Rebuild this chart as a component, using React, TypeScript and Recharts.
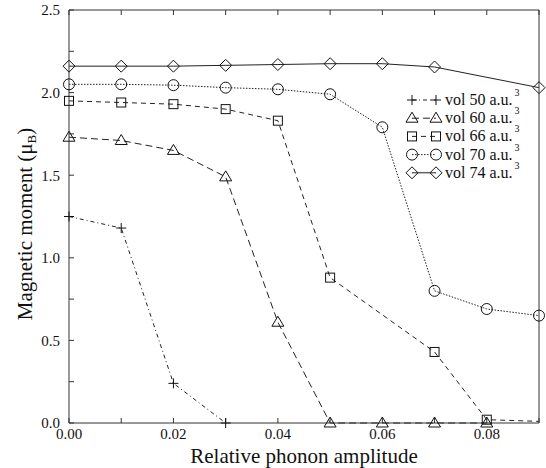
import React from "react";
import { LineChart, Line, XAxis, YAxis, Label } from "recharts";

// relative phonon amplitude
const amplitude = [0, 0.01, 0.02, 0.03, 0.04, 0.05, 0.06, 0.07, 0.08, 0.09];
// magnetic moment per volume (null = no point)
const vol50 = [1.25, 1.18, 0.24, 0.0, null, null, null, null, null, null];
const vol60 = [1.73, 1.71, 1.65, 1.49, 0.61, 0.0, 0.0, 0.0, 0.0, null];
const vol66 = [1.95, 1.94, 1.93, 1.9, 1.83, 0.88, null, 0.43, 0.02, 0.01];
const vol70 = [2.05, 2.05, 2.045, 2.03, 2.02, 1.99, 1.79, 0.8, 0.69, 0.65];
const vol74 = [2.16, 2.16, 2.16, 2.165, 2.17, 2.175, 2.175, 2.155, null, 2.03];

const xTicks = [0, 0.01, 0.02, 0.03, 0.04, 0.05, 0.06, 0.07, 0.08, 0.09];
const yTicks = [0, 0.25, 0.5, 0.75, 1, 1.25, 1.5, 1.75, 2, 2.25, 2.5];

const data = amplitude.map((a, i) => ({
  a,
  v50: vol50[i],
  v60: vol60[i],
  v66: vol66[i],
  v70: vol70[i],
  v74: vol74[i],
}));

const FONT = "Liberation Serif, DejaVu Serif, serif";
const AXIS = "#333";

type Shape = "plus" | "triangle" | "square" | "circle" | "diamond";

const series: { key: string; label: string; shape: Shape; dash?: string; hideLast?: boolean }[] = [
  { key: "v50", label: "vol 50 a.u.", shape: "plus", dash: "4 3 1 3" },
  { key: "v60", label: "vol 60 a.u.", shape: "triangle", dash: "7 4" },
  { key: "v66", label: "vol 66 a.u.", shape: "square", dash: "5 4", hideLast: true },
  { key: "v70", label: "vol 70 a.u.", shape: "circle", dash: "1.5 1.5" },
  { key: "v74", label: "vol 74 a.u.", shape: "diamond" },
];

function Marker({ shape, x, y }: { shape: Shape; x: number; y: number }) {
  const p = { fill: "none", stroke: "#111", strokeWidth: 1 };
  if (shape === "plus")
    return <path d={`M${x - 5},${y}H${x + 5}M${x},${y - 5}V${y + 5}`} {...p} />;
  if (shape === "triangle")
    return <polygon points={`${x},${y - 6} ${x - 6},${y + 4} ${x + 6},${y + 4}`} {...p} />;
  if (shape === "square") return <rect x={x - 4.5} y={y - 4.5} width={9} height={9} {...p} />;
  if (shape === "circle") return <circle cx={x} cy={y} r={5.5} {...p} />;
  return <polygon points={`${x},${y - 6} ${x + 6},${y} ${x},${y + 6} ${x - 6},${y}`} {...p} />;
}

const makeDot = (shape: Shape, hideLast?: boolean) => (props: any) => {
  const { cx, cy, index } = props;
  if (cx == null || cy == null || (hideLast && index === amplitude.length - 1))
    return <g key={index} />;
  return (
    <g key={index}>
      <Marker shape={shape} x={cx} y={cy} />
    </g>
  );
};

function LegendBox() {
  return (
    <svg width={136} height={95} style={{ display: "block", overflow: "visible" }}>
      {series.map((s, i) => {
        const y = 10 + i * 18.2;
        return (
          <g key={s.key}>
            <line x1={7} x2={31} y1={y} y2={y} stroke="#222" strokeDasharray={s.dash} />
            <Marker shape={s.shape} x={7} y={y} />
            <Marker shape={s.shape} x={31} y={y} />
            <text x={40} y={y + 5} fontFamily={FONT} fontSize={16} fill="#111">
              {s.label}
              <tspan fontSize={10} dx={2} dy={-9}>
                3
              </tspan>
            </text>
          </g>
        );
      })}
    </svg>
  );
}

export default function App() {
  return (
    <div style={{ position: "absolute", left: 0, top: 0, width: 546, height: 468, background: "#fff", fontFamily: FONT }}>
      <LineChart
        width={546}
        height={468}
        data={data}
        margin={{ top: 9, right: 6, bottom: 44, left: 68 }}
      >
        <XAxis
          dataKey="a"
          type="number"
          domain={[0, 0.09]}
          ticks={xTicks}
          interval={0}
          height={1}
          stroke={AXIS}
          tickSize={-5}
          tickMargin={10}
          tick={{ fontFamily: FONT, fontSize: 15, fill: "#111" }}
          tickFormatter={(v: number) => (Math.round(v * 100) % 2 === 0 ? v.toFixed(2) : "")}
        >
          <Label
            content={() => (
              <text x={304} y={463} textAnchor="middle" fontFamily={FONT} fontSize={21} fill="#111">
                Relative phonon amplitude
              </text>
            )}
          />
        </XAxis>
        <XAxis
          xAxisId="top"
          orientation="top"
          dataKey="a"
          type="number"
          domain={[0, 0.09]}
          ticks={xTicks}
          interval={0}
          height={1}
          stroke={AXIS}
          tickSize={-5}
          tickFormatter={() => ""}
        />
        <YAxis
          type="number"
          domain={[0, 2.5]}
          ticks={yTicks}
          interval={0}
          width={1}
          stroke={AXIS}
          tickSize={-5}
          tickMargin={14}
          tick={{ fontFamily: FONT, fontSize: 15, fill: "#111" }}
          tickFormatter={(v: number) => (Math.round(v * 100) % 50 === 0 ? v.toFixed(1) : "")}
        >
          <Label
            content={() => (
              <text
                transform="translate(32,224) rotate(-90)"
                textAnchor="middle"
                fontFamily={FONT}
                fontSize={21}
                fill="#111"
              >
                Magnetic moment (μ
                <tspan fontSize={13} dy={4}>
                  B
                </tspan>
                <tspan dy={-4}>)</tspan>
              </text>
            )}
          />
        </YAxis>
        <YAxis
          yAxisId="right"
          orientation="right"
          type="number"
          domain={[0, 2.5]}
          ticks={yTicks}
          interval={0}
          width={1}
          stroke={AXIS}
          tickSize={-5}
          tickFormatter={() => ""}
        />
        {series.map((s) => (
          <Line
            key={s.key}
            dataKey={s.key}
            name={s.label}
            type="linear"
            stroke="#222"
            strokeWidth={1}
            strokeDasharray={s.dash}
            connectNulls
            dot={makeDot(s.shape, s.hideLast)}
            activeDot={false}
            isAnimationActive={false}
          />
        ))}
      </LineChart>
      <div style={{ position: "absolute", left: 405, top: 90 }}>
        <LegendBox />
      </div>
    </div>
  );
}
